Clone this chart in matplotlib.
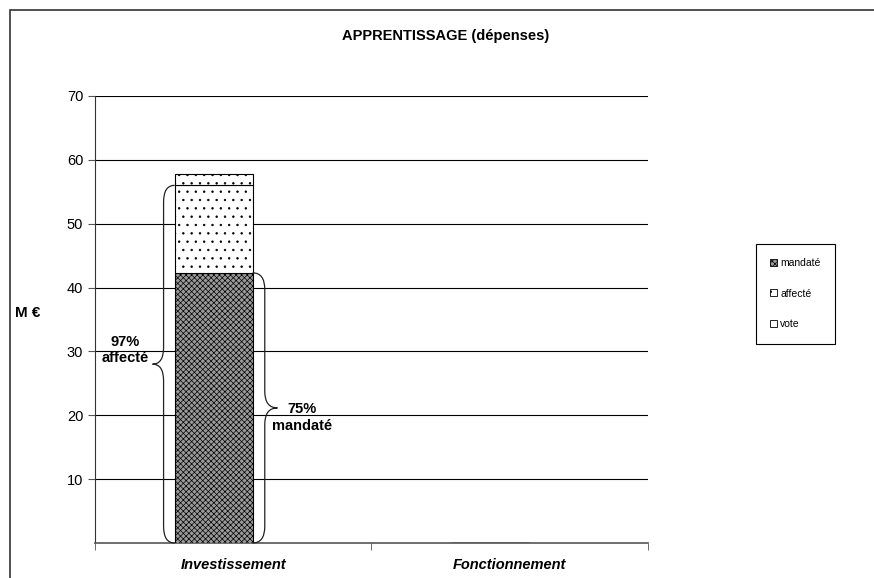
import matplotlib
matplotlib.use("Agg")
import matplotlib.pyplot as plt
from matplotlib.patches import Patch, PathPatch, Rectangle
from matplotlib.path import Path

categories = ["Investissement", "Fonctionnement"]
mandate = [42.3, 0.0]
affecte = [56.0, 0.0]
vote = [57.7, 0.0]
yticks = [10, 20, 30, 40, 50, 60, 70]
brace_labels = ["97%\naffecté", "75%\nmandaté"]

plt.rcParams["font.family"] = ["Liberation Sans", "DejaVu Sans"]
plt.rcParams["hatch.linewidth"] = 0.5


def brace(ax, x_end, x_v, x_tip, y0, y1, r=2.6):
    """Accolade verticale entre y0 et y1, pointe vers x_tip."""
    ym = (y0 + y1) / 2
    verts = [
        (x_end, y0), (x_v, y0), (x_v, y0 + r),
        (x_v, ym - r), (x_v, ym), (x_tip, ym),
        (x_v, ym), (x_v, ym + r),
        (x_v, y1 - r), (x_v, y1), (x_end, y1),
    ]
    codes = [
        Path.MOVETO, Path.CURVE3, Path.CURVE3,
        Path.LINETO, Path.CURVE3, Path.CURVE3,
        Path.CURVE3, Path.CURVE3,
        Path.LINETO, Path.CURVE3, Path.CURVE3,
    ]
    ax.add_patch(PathPatch(Path(verts, codes), fill=False, lw=0.9,
                           ec="#222222", zorder=4, clip_on=False))


fig = plt.figure(figsize=(8.74, 5.78), dpi=100)
ax = fig.add_axes([0.1087, 0.0606, 0.7414 - 0.1087, 0.834 - 0.0606])

# cadre extérieur
fig.add_artist(Rectangle((10 / 874, -0.2), 2.0, 1.2 - 10 / 578,
                         transform=fig.transFigure, fill=False,
                         ec="#333333", lw=1.2))

x = [i - 0.071 for i in range(len(categories))]
w = 0.282
seg_aff = [a - m for a, m in zip(affecte, mandate)]
seg_vote = [v - a for v, a in zip(vote, affecte)]

ax.bar(x, mandate, w, color="#9a9a9a", hatch="xxxxxx", edgecolor="black",
       lw=0.8, zorder=3)
ax.bar(x, seg_aff, w, bottom=mandate, color="white", hatch="..",
       edgecolor="black", lw=0.8, zorder=3)
ax.bar(x, seg_vote, w, bottom=affecte, color="white", hatch="..",
       edgecolor="black", lw=0.8, zorder=3)

ax.set_xlim(-0.5, 1.5)
ax.set_ylim(0, 70)
ax.set_yticks(yticks)
ax.yaxis.grid(True, color="black", lw=0.8)
ax.set_axisbelow(True)
ax.tick_params(axis="y", labelsize=10.5, length=5, color="#555555")
ax.set_xticks([0, 1])
ax.set_xticklabels(categories, fontsize=10.5, fontstyle="italic",
                   fontweight="bold")
ax.tick_params(axis="x", length=0, pad=11)
ax.set_xticks([-0.5, 0.5, 1.5], minor=True)
ax.tick_params(axis="x", which="minor", length=5, color="#555555")
for s in ["top", "right"]:
    ax.spines[s].set_visible(False)
ax.spines["left"].set_color("#333333")
ax.spines["bottom"].set_color("#555555")
ax.spines["bottom"].set_linewidth(1.2)

ax.set_ylabel("M €", fontsize=11, fontweight="bold", rotation=0,
              ha="center", va="center")
ax.yaxis.set_label_coords(-0.121, 0.514)

fig.text(0.510, 0.937, "APPRENTISSAGE (dépenses)", ha="center", va="center",
         fontsize=10.5, fontweight="bold")

# accolades
left = x[0] - w / 2
right = x[0] + w / 2
brace(ax, left, left - 0.04, left - 0.08, 0, affecte[0])
brace(ax, right, right + 0.044, right + 0.09, 0, mandate[0])
ax.text(left - 0.18, affecte[0] / 2 + 2.2, brace_labels[0],
        ha="center", va="center", fontsize=10.5, fontweight="bold",
        linespacing=1.25, zorder=5)
ax.text(right + 0.18, mandate[0] / 2 - 1.45, brace_labels[1],
        ha="center", va="center", fontsize=10.5, fontweight="bold",
        linespacing=1.25, zorder=5)

handles = [
    Patch(facecolor="#9a9a9a", hatch="xxxxxx", edgecolor="black", lw=0.6,
          label="mandaté"),
    Patch(facecolor="white", hatch="..", edgecolor="black", lw=0.6,
          label="affecté"),
    Patch(facecolor="white", edgecolor="black", lw=0.6, label="vote"),
]
leg = fig.legend(handles=handles, loc="center",
                 bbox_to_anchor=(0.910, 0.492), fontsize=7.5,
                 handlelength=0.65, handleheight=0.65, handletextpad=0.3,
                 labelspacing=1.95, borderpad=1.4, fancybox=False,
                 edgecolor="black", framealpha=1)
leg.get_frame().set_linewidth(0.8)

fig.savefig("out.png", dpi=100)
